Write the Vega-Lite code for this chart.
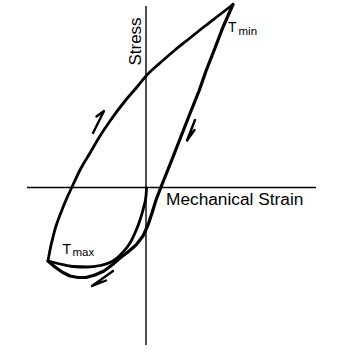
{
  "$schema": "https://vega.github.io/schema/vega-lite/v6.json",
  "width": 338,
  "height": 354,
  "padding": 0,
  "autosize": {"type": "fit", "contains": "padding"},
  "background": "white",
  "config": {"view": {"stroke": null}},
  "datasets": {
    "curves": [
      {"curve": "loading", "i": 0, "x": -9.8, "y": -7.35},
      {"curve": "loading", "i": 1, "x": -9.6, "y": -6.25},
      {"curve": "loading", "i": 2, "x": -9.3, "y": -4.95},
      {"curve": "loading", "i": 3, "x": -9.0, "y": -3.85},
      {"curve": "loading", "i": 4, "x": -8.6, "y": -2.75},
      {"curve": "loading", "i": 5, "x": -8.0, "y": -1.25},
      {"curve": "loading", "i": 6, "x": -7.4, "y": 0.05},
      {"curve": "loading", "i": 7, "x": -6.6, "y": 1.75},
      {"curve": "loading", "i": 8, "x": -5.6, "y": 3.45},
      {"curve": "loading", "i": 9, "x": -4.6, "y": 5.15},
      {"curve": "loading", "i": 10, "x": -3.6, "y": 6.65},
      {"curve": "loading", "i": 11, "x": -2.1, "y": 8.65},
      {"curve": "loading", "i": 12, "x": -0.9, "y": 10.05},
      {"curve": "loading", "i": 13, "x": 0.0, "y": 11.15},
      {"curve": "loading", "i": 14, "x": 1.4, "y": 12.45},
      {"curve": "loading", "i": 15, "x": 2.9, "y": 13.75},
      {"curve": "loading", "i": 16, "x": 4.4, "y": 14.95},
      {"curve": "loading", "i": 17, "x": 5.9, "y": 16.15},
      {"curve": "loading", "i": 18, "x": 7.2, "y": 17.15},
      {"curve": "loading", "i": 19, "x": 8.7, "y": 18.3},
      {"curve": "unloading", "i": 0, "x": 8.7, "y": 18.3},
      {"curve": "unloading", "i": 1, "x": 7.7, "y": 16.05},
      {"curve": "unloading", "i": 2, "x": 6.9, "y": 13.95},
      {"curve": "unloading", "i": 3, "x": 6.0, "y": 11.65},
      {"curve": "unloading", "i": 4, "x": 5.3, "y": 9.65},
      {"curve": "unloading", "i": 5, "x": 4.3, "y": 7.15},
      {"curve": "unloading", "i": 6, "x": 3.4, "y": 4.85},
      {"curve": "unloading", "i": 7, "x": 2.5, "y": 2.55},
      {"curve": "unloading", "i": 8, "x": 1.5, "y": 0.05},
      {"curve": "unloading", "i": 9, "x": 1.0, "y": -1.25},
      {"curve": "unloading", "i": 10, "x": 0.6, "y": -2.55},
      {"curve": "unloading", "i": 11, "x": 0.2, "y": -3.75},
      {"curve": "unloading", "i": 12, "x": -0.3, "y": -4.85},
      {"curve": "unloading", "i": 13, "x": -1.0, "y": -5.75},
      {"curve": "unloading", "i": 14, "x": -1.8, "y": -6.45},
      {"curve": "unloading", "i": 15, "x": -2.6, "y": -7.05},
      {"curve": "unloading", "i": 16, "x": -3.4, "y": -7.75},
      {"curve": "unloading", "i": 17, "x": -4.2, "y": -8.35},
      {"curve": "unloading", "i": 18, "x": -5.1, "y": -8.75},
      {"curve": "unloading", "i": 19, "x": -6.0, "y": -9.0},
      {"curve": "unloading", "i": 20, "x": -6.8, "y": -9.0},
      {"curve": "unloading", "i": 21, "x": -7.6, "y": -8.85},
      {"curve": "unloading", "i": 22, "x": -8.4, "y": -8.45},
      {"curve": "unloading", "i": 23, "x": -9.1, "y": -7.95},
      {"curve": "unloading", "i": 24, "x": -9.8, "y": -7.35},
      {"curve": "initial", "i": 0, "x": 0.05, "y": -0.05},
      {"curve": "initial", "i": 1, "x": 0.0, "y": -0.85},
      {"curve": "initial", "i": 2, "x": -0.2, "y": -1.85},
      {"curve": "initial", "i": 3, "x": -0.6, "y": -3.25},
      {"curve": "initial", "i": 4, "x": -1.1, "y": -4.55},
      {"curve": "initial", "i": 5, "x": -1.6, "y": -5.55},
      {"curve": "initial", "i": 6, "x": -2.2, "y": -6.35},
      {"curve": "initial", "i": 7, "x": -2.9, "y": -7.05},
      {"curve": "initial", "i": 8, "x": -3.6, "y": -7.5},
      {"curve": "initial", "i": 9, "x": -4.6, "y": -7.8},
      {"curve": "initial", "i": 10, "x": -5.9, "y": -7.95},
      {"curve": "initial", "i": 11, "x": -7.3, "y": -7.9},
      {"curve": "initial", "i": 12, "x": -8.6, "y": -7.65},
      {"curve": "initial", "i": 13, "x": -9.8, "y": -7.35}
    ],
    "arrows": [
      {"arrow": "a1", "i": 0, "x": -5.3, "y": 5.45},
      {"arrow": "a1", "i": 1, "x": -4.2, "y": 7.65},
      {"arrow": "a1", "i": 2, "x": -4.95, "y": 7.1},
      {"arrow": "a2", "i": 0, "x": 4.9, "y": 6.75},
      {"arrow": "a2", "i": 1, "x": 4.1, "y": 4.7},
      {"arrow": "a2", "i": 2, "x": 4.85, "y": 5.75},
      {"arrow": "a3", "i": 0, "x": -3.3, "y": -8.35},
      {"arrow": "a3", "i": 1, "x": -5.4, "y": -9.85},
      {"arrow": "a3", "i": 2, "x": -4.0, "y": -9.3}
    ],
    "axes": [
      {"axis": "strain", "x": -11.9, "x2": 17.0, "y": 0, "y2": 0},
      {"axis": "stress", "x": 0, "x2": 0, "y": 18.15, "y2": -15.75}
    ],
    "labels": [
      {"kind": "big", "text": "T", "x": 8.2, "y": 15.55},
      {"kind": "sub", "text": "min", "x": 9.25, "y": 15.3},
      {"kind": "big", "text": "T", "x": -8.35, "y": -6.6},
      {"kind": "sub", "text": "max", "x": -7.35, "y": -6.8}
    ]
  },
  "encoding": {
    "x": {"type": "quantitative", "scale": {"domain": [-14.6, 19.2], "nice": false, "zero": false}, "axis": null},
    "y": {"type": "quantitative", "scale": {"domain": [-16.65, 18.75], "nice": false, "zero": false}, "axis": null}
  },
  "layer": [
    {
      "data": {"name": "axes"},
      "mark": {"type": "rule", "color": "black", "strokeWidth": 1.4},
      "encoding": {
        "x": {"field": "x", "type": "quantitative"},
        "x2": {"field": "x2"},
        "y": {"field": "y", "type": "quantitative"},
        "y2": {"field": "y2"}
      }
    },
    {
      "data": {"name": "curves"},
      "transform": [{"filter": "datum.curve != 'unloading'"}],
      "mark": {"type": "line", "color": "black", "strokeWidth": 2.8, "strokeCap": "round", "strokeJoin": "round", "interpolate": "monotone"},
      "encoding": {
        "x": {"field": "x", "type": "quantitative"},
        "y": {"field": "y", "type": "quantitative"},
        "detail": {"field": "curve"},
        "order": {"field": "i", "type": "quantitative"}
      }
    },
    {
      "data": {"name": "curves"},
      "transform": [{"filter": "datum.curve == 'unloading'"}],
      "mark": {"type": "line", "color": "black", "strokeWidth": 3.2, "strokeCap": "round", "strokeJoin": "round"},
      "encoding": {
        "x": {"field": "x", "type": "quantitative"},
        "y": {"field": "y", "type": "quantitative"},
        "detail": {"field": "curve"},
        "order": {"field": "i", "type": "quantitative"}
      }
    },
    {
      "data": {"name": "arrows"},
      "mark": {"type": "line", "color": "black", "strokeWidth": 2.4, "strokeCap": "round", "strokeJoin": "round"},
      "encoding": {
        "x": {"field": "x", "type": "quantitative"},
        "y": {"field": "y", "type": "quantitative"},
        "detail": {"field": "arrow"},
        "order": {"field": "i", "type": "quantitative"}
      }
    },
    {
      "data": {"values": [{"text": "Stress", "x": -0.5, "y": 14.6}]},
      "mark": {"type": "text", "angle": 270, "align": "center", "baseline": "alphabetic", "font": "Liberation Sans", "fontSize": 17, "color": "black"},
      "encoding": {
        "x": {"field": "x", "type": "quantitative"},
        "y": {"field": "y", "type": "quantitative"},
        "text": {"field": "text"}
      }
    },
    {
      "data": {"values": [{"text": "Mechanical Strain", "x": 2.0, "y": -1.75}]},
      "mark": {"type": "text", "align": "left", "baseline": "alphabetic", "font": "Liberation Sans", "fontSize": 17.3, "color": "black"},
      "encoding": {
        "x": {"field": "x", "type": "quantitative"},
        "y": {"field": "y", "type": "quantitative"},
        "text": {"field": "text"}
      }
    },
    {
      "data": {"name": "labels"},
      "transform": [{"filter": "datum.kind == 'big'"}],
      "mark": {"type": "text", "align": "left", "baseline": "alphabetic", "font": "Liberation Sans", "fontSize": 14, "color": "black"},
      "encoding": {
        "x": {"field": "x", "type": "quantitative"},
        "y": {"field": "y", "type": "quantitative"},
        "text": {"field": "text"}
      }
    },
    {
      "data": {"name": "labels"},
      "transform": [{"filter": "datum.kind == 'sub'"}],
      "mark": {"type": "text", "align": "left", "baseline": "alphabetic", "font": "Liberation Sans", "fontSize": 11.5, "color": "black"},
      "encoding": {
        "x": {"field": "x", "type": "quantitative"},
        "y": {"field": "y", "type": "quantitative"},
        "text": {"field": "text"}
      }
    }
  ]
}
